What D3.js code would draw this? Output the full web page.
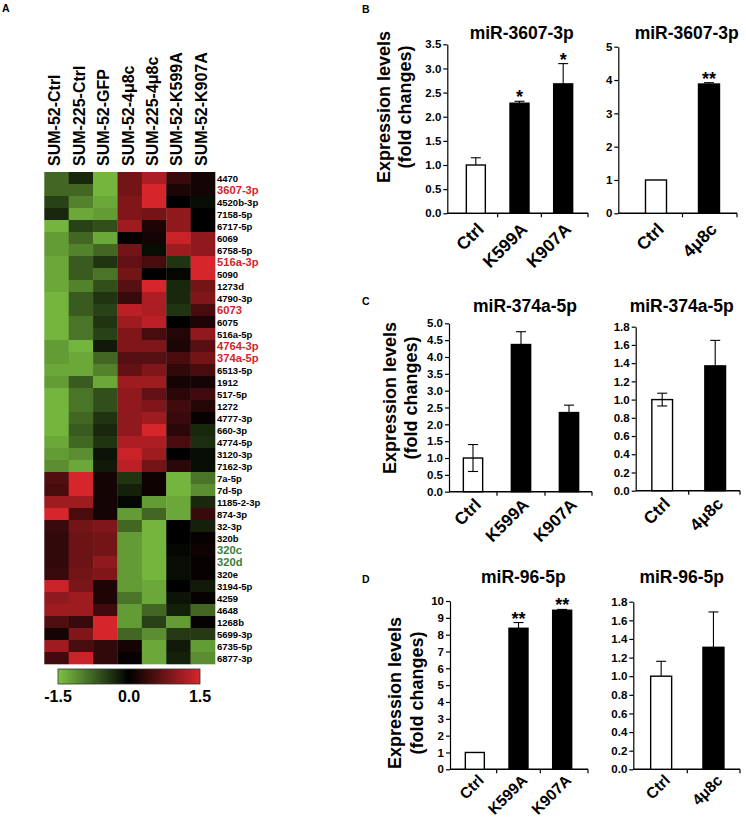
<!DOCTYPE html>
<html><head><meta charset="utf-8">
<script src="https://cdn.jsdelivr.net/npm/d3@7"></script>
<style>
body{margin:0;background:#fff}
svg{display:block}
text{font-family:"Liberation Sans",Arial,sans-serif;font-weight:bold;fill:#000}
</style>
</head><body>
<svg id="c" width="746" height="818"></svg>
<script>
// ---------------- DATA ----------------
const heatColumns = ["SUM-52-Ctrl","SUM-225-Ctrl","SUM-52-GFP","SUM-52-4μ8c","SUM-225-4μ8c","SUM-52-K599A","SUM-52-K907A"];
const heatRows = ["4470","3607-3p","4520b-3p","7158-5p","6717-5p","6069","6758-5p","516a-3p","5090","1273d",
  "4790-3p","6073","6075","516a-5p","4764-3p","374a-5p","6513-5p","1912","517-5p","1272","4777-3p","660-3p",
  "4774-5p","3120-3p","7162-3p","7a-5p","7d-5p","1185-2-3p","874-3p","32-3p","320b","320c","320d","320e",
  "3194-5p","4259","4648","1268b","5699-3p","6735-5p","6877-3p"];
const redRows = ["3607-3p","516a-3p","6073","4764-3p","374a-5p"];
const greenRows = ["320c","320d"];
const heatValues = [
 [-0.8,-0.3,-1.4,0.8,1.2,0.4,0.15],
 [-0.8,-0.8,-1.4,0.8,1.5,0.2,0.15],
 [-0.5,-1.0,-1.3,0.9,1.5,0.0,-0.1],
 [-0.3,-1.3,-1.2,0.9,0.8,1.0,0.0],
 [-1.4,-0.5,-0.6,1.1,0.2,1.0,0.0],
 [-1.2,-0.8,-1.3,0.05,0.15,1.4,1.0],
 [-1.2,-1.0,-0.8,0.8,-0.1,1.1,1.0],
 [-1.3,-0.7,-0.4,0.7,0.5,-0.4,1.5],
 [-1.3,-0.7,-0.9,0.8,0.0,-0.05,1.5],
 [-1.3,-1.0,-0.6,0.6,1.5,-0.3,0.8],
 [-1.4,-0.7,-0.4,0.4,1.2,-0.3,0.9],
 [-1.4,-0.7,-0.5,1.3,1.2,-0.4,0.5],
 [-1.4,-0.9,-0.4,1.1,1.3,0.0,0.2],
 [-1.4,-0.9,-0.5,0.9,0.5,0.25,1.0],
 [-1.2,-1.4,-0.2,0.9,0.9,0.2,0.6],
 [-1.2,-1.3,-0.8,0.6,0.6,0.5,0.8],
 [-1.3,-1.3,-1.0,0.7,0.9,0.35,0.5],
 [-1.2,-0.7,-1.3,1.1,1.1,0.15,0.15],
 [-1.4,-0.9,-0.6,1.0,0.7,0.3,0.45],
 [-1.4,-0.9,-0.6,1.0,0.9,0.45,0.25],
 [-1.4,-0.8,-0.4,1.0,1.1,0.4,0.05],
 [-1.4,-0.7,-0.3,1.0,1.5,0.3,-0.3],
 [-1.3,-0.8,-0.4,1.2,1.2,0.5,-0.35],
 [-1.2,-1.1,-0.15,1.4,1.1,0.0,-0.1],
 [-1.1,-1.3,-0.2,1.3,0.8,0.3,-0.1],
 [0.55,1.5,0.15,-0.4,0.1,-1.4,-0.9],
 [0.5,1.5,0.15,-0.25,0.1,-1.4,-1.1],
 [1.1,1.1,0.15,-0.05,-1.2,-1.3,-0.3],
 [1.5,0.5,0.15,-1.2,-0.8,-1.3,0.4],
 [0.4,0.8,0.9,-0.8,-1.4,0.0,-0.25],
 [0.35,0.75,0.8,-1.2,-1.4,0.0,0.05],
 [0.35,0.75,0.8,-1.2,-1.4,-0.05,0.1],
 [0.35,0.75,1.0,-1.2,-1.4,-0.1,0.05],
 [0.4,0.8,0.9,-1.2,-1.4,-0.1,0.05],
 [1.4,0.85,0.2,-1.2,-1.3,0.0,-0.2],
 [1.0,1.1,0.2,-0.9,-1.3,-0.15,0.05],
 [1.1,1.1,0.45,-1.2,-0.8,-0.25,-0.8],
 [0.55,0.4,1.5,-1.2,-0.5,-1.2,0.05],
 [0.15,0.9,1.5,-0.8,-1.1,-0.45,-0.45],
 [1.1,0.5,0.35,0.15,-1.3,-0.2,-1.2],
 [0.45,1.4,0.35,0.05,-1.3,-0.25,-1.1]
];
const legendTicks = [-1.5, 0.0, 1.5];

const catsMut = ["Ctrl","K599A","K907A"];
const catsInh = ["Ctrl","4μ8c"];
const fillMut = ["#fff","#000","#000"];
const fillInh = ["#fff","#000"];

// B: miR-3607-3p
const b1Values = [1.0, 2.28, 2.68];
const b1ErrUp  = [0.15, 0.04, 0.42];
const b1ErrDown= [0, 0, 0];
const b1Stars  = ["", "*", "*"];
const b2Values = [1.0, 3.88];
const b2ErrUp  = [0, 0.04];
const b2ErrDown= [0, 0];
const b2Stars  = ["", "**"];
// C: miR-374a-5p
const c1Values = [1.0, 4.37, 2.35];
const c1ErrUp  = [0.4, 0.38, 0.22];
const c1ErrDown= [0.4, 0, 0];
const c1Stars  = ["", "", ""];
const c2Values = [1.0, 1.37];
const c2ErrUp  = [0.07, 0.28];
const c2ErrDown= [0.07, 0];
const c2Stars  = ["", ""];
// D: miR-96-5p
const d1Values = [1.0, 8.38, 9.45];
const d1ErrUp  = [0, 0.34, 0.05];
const d1ErrDown= [0, 0, 0];
const d1Stars  = ["", "**", "**"];
const d2Values = [1.0, 1.31];
const d2ErrUp  = [0.16, 0.38];
const d2ErrDown= [0, 0];
const d2Stars  = ["", ""];

const titles = ["miR-3607-3p","miR-3607-3p","miR-374a-5p","miR-374a-5p","miR-96-5p","miR-96-5p"];
const yMax   = [3.5, 5, 5.0, 1.8, 10, 1.8];
const yStep  = [0.5, 1, 0.5, 0.2, 1, 0.2];
const yFmt   = [".1f","d",".1f",".1f","d",".1f"];
const yLabelLines = ["Expression levels","(fold changes)"];
const panelLetters = ["A","B","C","D"];

// ---------------- DRAW ----------------
const svg = d3.select("#c");

// Heatmap
const hx = d3.scaleBand().domain(heatColumns).range([44.3, 215]);
const hy = d3.scaleBand().domain(heatRows).range([172, 664]);
const col = d3.scaleLinear().domain([-1.5, 0, 1.5]).range(["#7cc242","#000000","#d7252c"]).clamp(true);

const cells = [];
heatRows.forEach((r, i) => heatColumns.forEach((c, j) => cells.push({r, c, v: heatValues[i][j]})));
svg.append("g").selectAll("rect").data(cells).join("rect")
  .attr("x", d => hx(d.c)).attr("y", d => hy(d.r))
  .attr("width", hx.bandwidth() + 0.3).attr("height", hy.bandwidth() + 0.3)
  .attr("fill", d => col(d.v));

svg.append("g").selectAll("text").data(heatColumns).join("text")
  .attr("transform", d => `translate(${hx(d) + hx.bandwidth()/2 + 4},166) rotate(-90)`)
  .attr("font-size", 16).text(d => d);

svg.append("g").selectAll("text").data(heatRows).join("text")
  .attr("x", 217)
  .attr("y", d => hy(d) + hy.bandwidth()/2 + ((redRows.includes(d)||greenRows.includes(d)) ? 4 : 3.5))
  .attr("font-size", d => (redRows.includes(d)||greenRows.includes(d)) ? 11.2 : 9.5)
  .style("fill", d => redRows.includes(d) ? "#d3242c" : greenRows.includes(d) ? "#3b7d3b" : "#000")
  .text(d => d);

// Legend
const defs = svg.append("defs");
const grad = defs.append("linearGradient").attr("id","lg");
grad.selectAll("stop").data([-1.5,-0.75,0,0.75,1.5]).join("stop")
  .attr("offset", d => ((d + 1.5)/3*100) + "%").attr("stop-color", d => col(d));
const lx = d3.scaleLinear().domain([-1.5, 1.5]).range([58, 200]);
svg.append("rect").attr("x", lx(-1.5)).attr("y", 669).attr("width", lx(1.5)-lx(-1.5)).attr("height", 15)
  .attr("fill","url(#lg)").attr("stroke","#333").attr("stroke-width",0.8);
svg.append("g").selectAll("text").data(legendTicks).join("text")
  .attr("x", d => lx(d)).attr("y", 702).attr("text-anchor","middle").attr("font-size",16)
  .text(d => d3.format(".1f")(d).replace("−","-"));

// Panel letters
const letterPos = [[2,12],[362,13],[362,305],[362,583]];
svg.append("g").selectAll("text").data(panelLetters).join("text")
  .attr("x", (d,i) => letterPos[i][0]).attr("y", (d,i) => letterPos[i][1]).attr("font-size", 10.5).text(d => d);

// Bar panels
const panelData = [
  {cats:catsMut, fill:fillMut, vals:b1Values, up:b1ErrUp, down:b1ErrDown, stars:b1Stars},
  {cats:catsInh, fill:fillInh, vals:b2Values, up:b2ErrUp, down:b2ErrDown, stars:b2Stars},
  {cats:catsMut, fill:fillMut, vals:c1Values, up:c1ErrUp, down:c1ErrDown, stars:c1Stars},
  {cats:catsInh, fill:fillInh, vals:c2Values, up:c2ErrUp, down:c2ErrDown, stars:c2Stars},
  {cats:catsMut, fill:fillMut, vals:d1Values, up:d1ErrUp, down:d1ErrDown, stars:d1Stars},
  {cats:catsInh, fill:fillInh, vals:d2Values, up:d2ErrUp, down:d2ErrDown, stars:d2Stars}
];
const geom = [
  {ax:447.3, y0:213.3, yTop:44.3, xr:[454,585],     xEnd:588, bw:19,   tx:521.7, ty:39,  lf:17.5, ldx:9,  ldy:17},
  {ax:618.3, y0:213.3, yTop:46.7, xr:[629.5,735.5], xEnd:737, bw:21,   tx:686.7, ty:39,  lf:17.5, ldx:9,  ldy:17},
  {ax:449,   y0:491.7, yTop:323.3,xr:[449,593],     xEnd:592, bw:19.3, tx:525,   ty:312, lf:17,   ldx:9,  ldy:14},
  {ax:635.7, y0:490.7, yTop:326.7,xr:[635.7,741.7], xEnd:740, bw:20.7, tx:681.7, ty:312, lf:17,   ldx:9,  ldy:14},
  {ax:450,   y0:769.3, yTop:601,  xr:[453,584],     xEnd:588, bw:19,   tx:523.3, ty:583, lf:15.5, ldx:10, ldy:12},
  {ax:633.3, y0:769.3, yTop:601.7,xr:[635,739.6],   xEnd:740, bw:21,   tx:681.7, ty:583, lf:15.5, ldx:10, ldy:12}
];

panelData.forEach((p, k) => {
  const g = geom[k];
  const gg = svg.append("g");
  const y = d3.scaleLinear().domain([0, yMax[k]]).range([g.y0, g.yTop]);
  const x = d3.scaleBand().domain(p.cats).range(g.xr);
  const ticks = d3.range(0, yMax[k] + yStep[k]/2, yStep[k]);
  const yAxis = d3.axisLeft(y).tickValues(ticks).tickSize(4).tickSizeOuter(0).tickPadding(2)
      .tickFormat(d3.format(yFmt[k]));
  const ya = gg.append("g").attr("transform", `translate(${g.ax},0)`).call(yAxis);
  ya.selectAll("text").attr("font-size", 11.5).style("font-family",'"Liberation Sans",Arial,sans-serif').style("font-weight","bold");
  ya.selectAll("line,path").attr("stroke","#000").attr("stroke-width",1.2);

  // x axis line
  gg.append("line").attr("x1", g.ax).attr("x2", g.xEnd).attr("y1", g.y0).attr("y2", g.y0)
    .attr("stroke","#000").attr("stroke-width",1.4);
  const centers = p.cats.map(c => x(c) + x.bandwidth()/2);
  const bounds = centers.slice(1).map((c,i) => (c + centers[i])/2).concat([g.xEnd]);
  gg.selectAll(".xt").data(bounds).join("line").attr("class","xt")
    .attr("x1", d => d).attr("x2", d => d).attr("y1", g.y0).attr("y2", g.y0 + 4)
    .attr("stroke","#000").attr("stroke-width",1.2);

  const bars = p.cats.map((c,i) => ({c, v:p.vals[i], up:p.up[i], down:p.down[i], s:p.stars[i], f:p.fill[i]}));
  bars.forEach(b => {
    const cx = x(b.c) + x.bandwidth()/2;
    if (b.up > 0) {
      gg.append("line").attr("x1",cx).attr("x2",cx).attr("y1",y(b.v)).attr("y2",y(b.v+b.up)).attr("stroke","#000").attr("stroke-width",1.1);
      gg.append("line").attr("x1",cx-5).attr("x2",cx+5).attr("y1",y(b.v+b.up)).attr("y2",y(b.v+b.up)).attr("stroke","#000").attr("stroke-width",1.1);
    }
  });
  gg.selectAll(".bar").data(bars).join("rect").attr("class","bar")
    .attr("x", d => x(d.c) + x.bandwidth()/2 - g.bw/2).attr("width", g.bw)
    .attr("y", d => y(d.v)).attr("height", d => g.y0 - y(d.v))
    .attr("fill", d => d.f).attr("stroke","#000").attr("stroke-width",1.4);
  bars.forEach(b => {
    const cx = x(b.c) + x.bandwidth()/2;
    if (b.down > 0) {
      gg.append("line").attr("x1",cx).attr("x2",cx).attr("y1",y(b.v)).attr("y2",y(b.v-b.down)).attr("stroke","#000").attr("stroke-width",1.1);
      gg.append("line").attr("x1",cx-5).attr("x2",cx+5).attr("y1",y(b.v-b.down)).attr("y2",y(b.v-b.down)).attr("stroke","#000").attr("stroke-width",1.1);
    }
    if (b.s) {
      gg.append("text").attr("x",cx).attr("y",y(b.v+b.up)+2).attr("text-anchor","middle").attr("font-size",18).text(b.s);
    }
  });

  // x labels
  gg.selectAll(".xl").data(p.cats).join("text").attr("class","xl")
    .attr("transform", d => `translate(${x(d)+x.bandwidth()/2+g.ldx},${g.y0+g.ldy}) rotate(-45)`)
    .attr("text-anchor","end").attr("font-size",g.lf).text(d => d);

  // title
  gg.append("text").attr("x", g.tx).attr("y", g.ty).attr("text-anchor","middle").attr("font-size",17.5).text(titles[k]);
});

// y-axis labels
const ylab = [{x1:389.5, x2:411, cy:107},{x1:396, x2:416.5, cy:398},{x1:401, x2:423, cy:693}];
ylab.forEach(L => {
  [L.x1, L.x2].forEach((xx, i) => {
    svg.append("text").attr("transform", `translate(${xx},${L.cy}) rotate(-90)`)
      .attr("text-anchor","middle").attr("font-size",18).text(yLabelLines[i]);
  });
});
</script>
</body></html>
